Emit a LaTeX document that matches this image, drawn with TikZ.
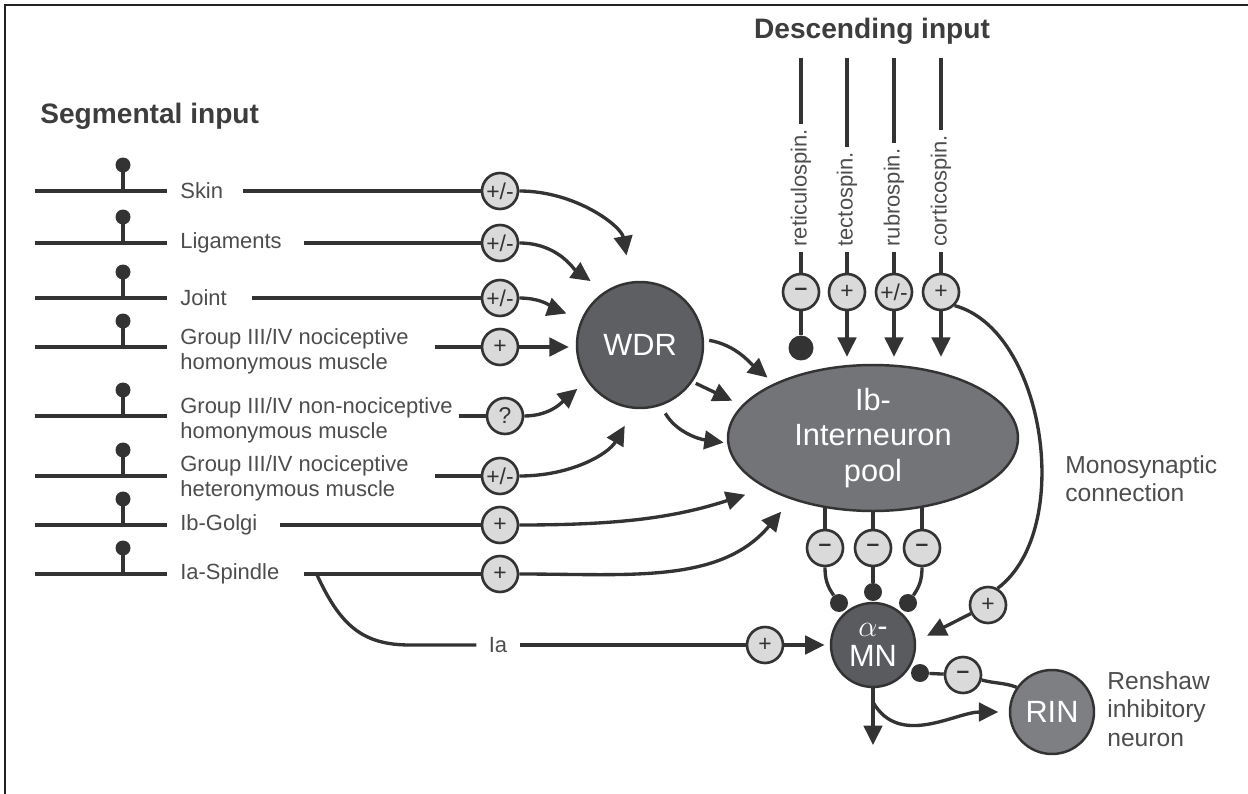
\documentclass[tikz,border=0pt]{standalone}
\usepackage{fontspec}
\setmainfont{Liberation Sans}
\usetikzlibrary{arrows.meta,calc,positioning,shapes.geometric,backgrounds}

\definecolor{linec}{HTML}{333333}
\definecolor{framec}{HTML}{222222}
\definecolor{sgnfill}{HTML}{DADADA}
\definecolor{txtc}{HTML}{4D4D4D}
\definecolor{titc}{HTML}{3D3D3D}
\definecolor{wdrfill}{HTML}{5E5F63}
\definecolor{ibfill}{HTML}{737478}
\definecolor{mnfill}{HTML}{5A5B5F}
\definecolor{rinfill}{HTML}{7E7F83}

\newcommand{\inhsgn}{\textbf{–}}

\begin{document}
\begin{tikzpicture}[x=0.02cm, y=0.02cm,
  wire/.style={draw=linec, line width=1.9pt},
  arr/.style={wire, -{Triangle[length=11pt,width=10.5pt]}},
  sgn/.style={circle, draw=linec, line width=1.5pt, fill=sgnfill, minimum size=0.72cm,
    inner sep=0pt, text=linec, font=\fontsize{13}{13}\selectfont},
  knob/.style={circle, fill=linec, inner sep=0pt, minimum size=#1},
  knob/.default=0.36cm,
  cell/.style={circle, draw=linec, line width=1.4pt, inner sep=0pt, text=white,
    align=center, font=\fontsize{17.5}{20}\selectfont},
  lbl/.style={text=txtc, align=left, inner sep=0pt, font=\fontsize{12.5}{14.2}\selectfont},
  title/.style={text=titc, inner sep=0pt, font=\fontsize{16}{18}\selectfont\bfseries}]

  \useasboundingbox (0,0) rectangle (1248,-794);
  % Frame (top and left only)
  \draw[line width=1.1pt, draw=framec] (5,-794) -- (5,-5) -- (1248,-5);

  % Titles
  \node[title, anchor=west] (segt) at (40,-116) {Segmental input};
  \node[title] (dest) at (872,-31) {Descending input};

  % Afferent fibres with receptor knobs
  \foreach \y in {-191,-243,-298,-347,-416,-476,-525,-574} {
    \draw[wire] (35,\y) -- (167,\y);
    \draw[wire] (123,\y) -- (123,\y+26);
    \fill[linec] (123,\y+26) circle (7.5);
  }

  % Segmental labels
  \node[lbl, anchor=west] (l1) at (180,-191) {Skin};
  \node[lbl, anchor=west] (l2) at (180,-243) {Ligaments};
  \node[lbl, anchor=west] (l3) at (180,-298) {Joint};
  \node[lbl, anchor=west] (l4) at (180,-351) {Group III/IV nociceptive\\homonymous muscle};
  \node[lbl, anchor=west] (l5) at (180,-420) {Group III/IV non-nociceptive\\homonymous muscle};
  \node[lbl, anchor=west] (l6) at (180,-478) {Group III/IV nociceptive\\heteronymous muscle};
  \node[lbl, anchor=west] (l7) at (180,-525) {Ib-Golgi};
  \node[lbl, anchor=west] (l8) at (180,-574) {Ia-Spindle};

  % Sign circles of the segmental inputs
  \node[sgn] (s1) at (500,-191) {+/-};
  \node[sgn] (s2) at (500,-243) {+/-};
  \node[sgn] (s3) at (500,-298) {+/-};
  \node[sgn] (s4) at (500,-347) {+};
  \node[sgn] (s5) at (505,-416) {?};
  \node[sgn] (s6) at (500,-476) {+/-};
  \node[sgn] (s7) at (500,-525) {+};
  \node[sgn] (s8) at (500,-574) {+};

  \draw[wire] ($(l1.east |- s1)+(20,0)$) -- (s1);
  \draw[wire] ($(l2.east |- s2)+(22,0)$) -- (s2);
  \draw[wire] ($(l3.east |- s3)+(25,0)$) -- (s3);
  \draw[wire] ($(l4.east |- s4)+(26,0)$) -- (s4);
  \draw[wire] ($(l5.east |- s5)+(6,0)$) -- (s5);
  \draw[wire] ($(l6.east |- s6)+(26,0)$) -- (s6);
  \draw[wire] ($(l7.east |- s7)+(22,0)$) -- (s7);
  \draw[wire] ($(l8.east |- s8)+(24,0)$) -- (s8);
  \coordinate (br) at ($(l8.east)+(37,0)$);

  % Neurons
  \node[cell, fill=wdrfill, minimum size=2.52cm] (wdr) at (640,-345) {WDR};
  \node[cell, ellipse, fill=ibfill, minimum width=5.8cm, minimum height=2.92cm] (ibin)
    at (873,-438) {Ib-\\Interneuron\\pool};
  \node[cell, fill=mnfill, minimum size=1.68cm, font=\fontsize{17.5}{17.5}\selectfont] (amn)
    at (873,-645) {$\alpha$-\\MN};
  \node[cell, fill=rinfill, minimum size=1.68cm] (rin) at (1052,-712) {RIN};

  % Inputs onto WDR
  \draw[arr, shorten >=15pt] (s1) to[out=0, in=100] (wdr.98);
  \draw[arr, shorten >=10pt] (s2) to[out=0, in=145] (wdr.123);
  \draw[arr, shorten >=9pt] (s3) to[out=0, in=160] (wdr.156);
  \draw[arr, shorten >=4pt] (s4) -- (s4 -| wdr.west);
  \draw[arr, shorten >=7pt] (s5) to[out=0, in=220] (wdr.214);
  \draw[arr, shorten >=11pt] (s6) to[out=0, in=240] (wdr.265);

  % WDR onto the interneuron pool
  \draw[arr, shorten <=3pt, shorten >=5pt] (wdr.5) to[out=-10, in=140] (ibin.151);
  \draw[arr, shorten <=2pt, shorten >=6pt] (wdr.-35) -- (ibin.166);
  \draw[arr, shorten <=5pt, shorten >=2pt] (wdr.-71) to[out=-60, in=172] (ibin.182);

  % Ib and Ia onto the pool
  \draw[arr, shorten >=12pt] (s7) to[out=0, in=198] (ibin.205);
  \draw[arr, shorten >=9pt] (s8) to[out=0, in=230] (ibin.217);

  % Monosynaptic Ia branch
  \node[lbl] (ia) at (498,-645) {Ia};
  \node[sgn] (m2) at (765,-645) {+};
  \draw[wire] (br) .. controls (340,-625) and (362,-645) .. (410,-645) -- ($(ia.west)+(-12,0)$);
  \draw[wire] ($(ia.east)+(12,0)$) -- (m2);
  \draw[arr, shorten >=3pt] (m2) -- (amn);

  % Descending tracts
  \foreach \n/\x/\name/\s in {1/801/reticulospin./{\inhsgn}, 2/847/tectospin./{+},
      3/894/rubrospin./{+/-}, 4/941/corticospin./{+}} {
    \coordinate (t\n) at (\x,-58);
    \node[lbl, rotate=90, anchor=west, inner sep=3pt, font=\fontsize{12.5}{14}\selectfont]
      (dl\n) at (\x,-252) {\name};
    \node[sgn] (d\n) at (\x,-292) {\s};
    \draw[wire] (t\n) -- (dl\n.east);
    \draw[wire] (dl\n.west) -- (d\n);
  }
  \node[knob=0.5cm] (b0) at (801,-348) {};
  \draw[wire] (d1) -- (b0);
  \foreach \n in {2,3,4}
    \draw[arr, shorten >=4pt] (d\n) -- (d\n |- ibin.north);

  % Corticospinal monosynaptic connection
  \node[sgn] (m1) at (988,-605) {+};
  \draw[wire] (d4.-45) .. controls (1045,-330) and (1075,-530) .. (m1.60);
  \draw[arr, shorten >=7pt] (m1) -- (amn.5);
  \node[lbl, anchor=west, font=\fontsize{14}{16}\selectfont] (mono) at (1065,-479)
    {Monosynaptic\\connection};

  % Inhibition from the pool onto the MN
  \foreach \n/\x in {1/825,2/873,3/922}
    \node[sgn] (e\n) at (\x,-548) {\inhsgn};
  \begin{scope}[on background layer]
    \foreach \n in {1,2,3}
      \draw[wire] (e\n) -- (e\n |- ibin.center);
  \end{scope}
  \node[knob] (k1) at (839,-603) {};
  \node[knob] (k2) at (873,-592) {};
  \node[knob] (k3) at (908,-603) {};
  \draw[wire] (e1) to[out=-90, in=125] (k1);
  \draw[wire] (e2) -- (k2);
  \draw[wire] (e3) to[out=-90, in=55] (k3);

  % Motor output and Renshaw loop
  \coordinate (mout) at (873,-745);
  \draw[arr] (amn) -- (mout);
  \draw[arr, shorten >=6pt] ($(amn.south)+(0,-14)$) to[out=-60, in=180] (rin.west);
  \node[sgn] (m3) at (963,-675) {\inhsgn};
  \node[knob] (k4) at (920,-673) {};
  \draw[wire] (rin.145) to[out=160, in=-15] (m3);
  \draw[wire] (m3) -- (k4);
  \node[lbl, anchor=west, font=\fontsize{14}{16.2}\selectfont] (ren) at (1107,-709)
    {Renshaw\\inhibitory\\neuron};

\end{tikzpicture}
\end{document}
